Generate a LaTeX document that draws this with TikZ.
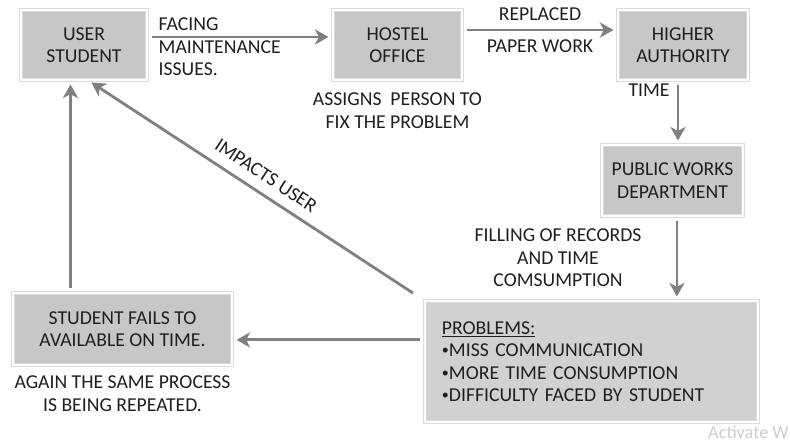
\documentclass[tikz,border=0pt]{standalone}
\usepackage{fontspec}
\setmainfont{Carlito}
\usetikzlibrary{arrows.meta, positioning, calc}

\newcommand{\pbul}{{\fontsize{10}{12}\selectfont\raisebox{0.25ex}{\textbullet}}}

\begin{document}
\begin{tikzpicture}[
  x=0.025cm, y=-0.025cm,
  font=\fontsize{14}{16}\selectfont,
  box/.style={draw=black!14, double=white, double distance=1.6pt, fill=black!22, text=black!88, align=center, inner sep=0pt},
  lbl/.style={text=black!88, align=center, inner sep=1pt},
  arr/.style={draw=black!50, line width=2pt, shorten <=3pt, shorten >=3pt, -{Stealth[length=3.4mm, width=3.8mm, inset=1mm]}}
]
  \useasboundingbox (0,0) rectangle (790,442);

  \node[box, minimum width=3.15cm, minimum height=1.75cm] (user) at (84,45) {USER\\STUDENT};
  \node[box, minimum width=3.225cm, minimum height=1.75cm] (hostel) at (397.5,45) {HOSTEL\\OFFICE};
  \node[box, minimum width=3.25cm, minimum height=1.75cm] (higher) at (683,45) {HIGHER\\AUTHORITY};
  \node[box, minimum width=3.525cm, minimum height=1.775cm] (pwd) at (672.5,180.5) {PUBLIC WORKS\\DEPARTMENT};
  \node[box, fill=black!18, minimum width=8.325cm, minimum height=3.025cm, align=left, inner xsep=0.425cm, text width=7.475cm] (probs) at (591.5,361.5)
    {\underline{PROBLEMS:}\\\pbul MISS COMMUNICATION\\\pbul MORE TIME CONSUMPTION\\\pbul DIFFICULTY FACED BY STUDENT};
  \node[box, minimum width=5.475cm, minimum height=1.8cm] (fails) at (122.5,329) {STUDENT FAILS TO\\AVAILABLE ON TIME.};

  % free labels
  \node[lbl, align=left, anchor=west] (facing) at (157,47) {FACING\\MAINTENANCE\\ISSUES.};
  \node[lbl, below=0.27cm of hostel] (assigns) {ASSIGNS\ \ PERSON TO\\FIX THE PROBLEM};
  \node[lbl] (filling) at (558,258) {FILLING OF RECORDS\\AND TIME\\COMSUMPTION};
  \node[lbl, below=0.22cm of fails] (again) {AGAIN THE SAME PROCESS\\IS BEING REPEATED.};

  \draw[arr] ([yshift=0.2cm]user.east) -- ([yshift=0.2cm]hostel.west);
  \draw[arr] ([yshift=0.375cm]hostel.east) -- node[lbl, above=5pt] (repl) {REPLACED} node[lbl, below=5pt] (paper) {PAPER WORK} ([yshift=0.375cm]higher.west);
  \draw[arr] ([xshift=-0.125cm]higher.south) -- node[lbl, left=4pt, pos=0.15] (time) {TIME} ([xshift=-0.125cm]higher.south |- pwd.north);
  \draw[arr] ([xshift=0.11cm]pwd.south) -- ([xshift=0.11cm]pwd.south |- probs.north);
  \draw[arr] ([yshift=0.54cm]probs.west) -- ([yshift=0.54cm]probs.west -| fails.east);
  \draw[arr] ([xshift=-1.3cm]fails.north) -- ([xshift=-1.3cm]fails.north |- user.south);
  \draw[arr, shorten <=0.35cm] (probs.north west) -- node[lbl, sloped, above=6pt, pos=0.5] (impacts) {IMPACTS USER} ([xshift=0.1cm]user.south);

  \node[anchor=east, text=black!20, inner sep=0pt, font=\fontsize{13}{15}\selectfont] (wm) at (789,432) {Activate W};
\end{tikzpicture}
\end{document}
